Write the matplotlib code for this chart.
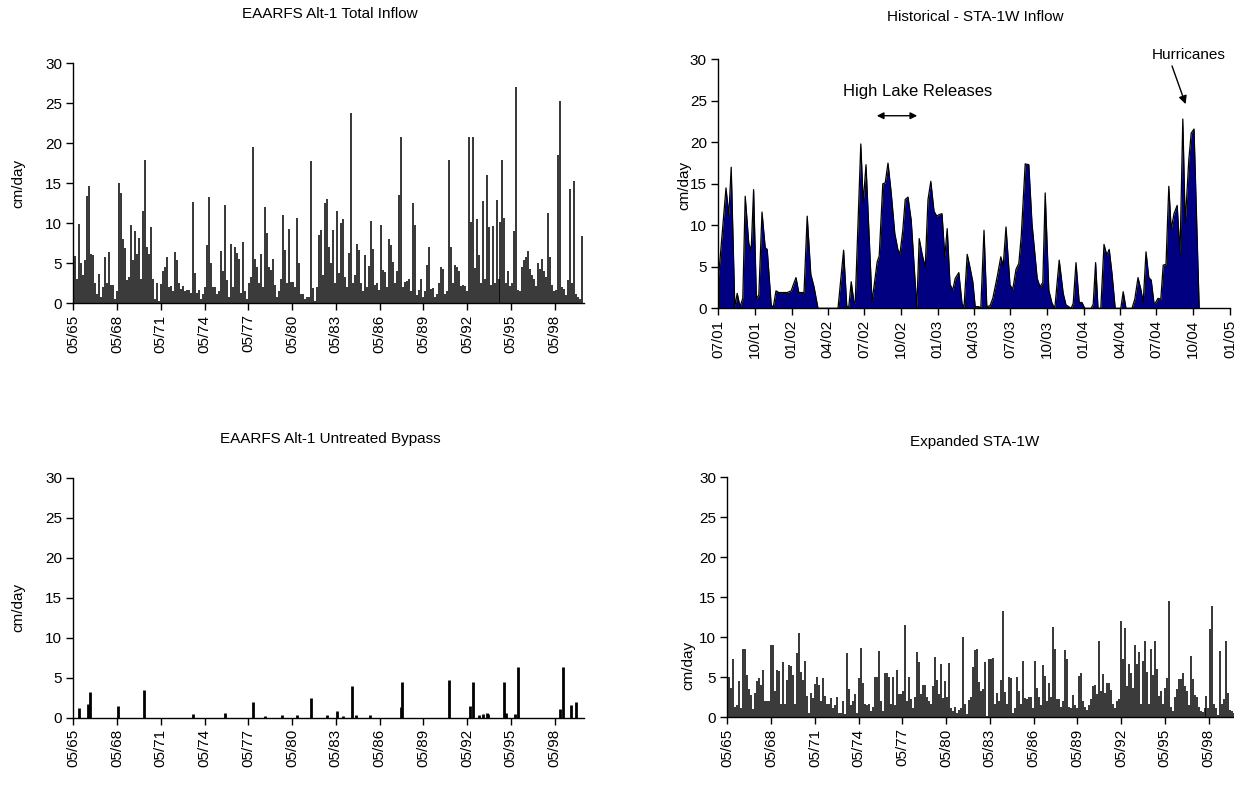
import pandas as pd
import matplotlib
matplotlib.use("Agg")
import matplotlib.pyplot as plt
import matplotlib.dates as mdates

plt.rcParams['font.family'] = ['Liberation Sans', 'DejaVu Sans']
plt.rcParams['font.size'] = 11

NAVY = '#000080'
W, H = 1234, 788

# EAARFS Alt-1 total inflow (cm/day), one reading every 50 days from May 1965
alt1_inflow = [
    11.2, 5.9, 3.0, 9.9, 5.0, 3.5, 5.4, 13.4, 14.7, 6.2,
    6.0, 2.5, 1.2, 3.7, 0.8, 2.0, 5.8, 2.5, 6.4, 2.3,
    2.3, 0.5, 1.5, 15.0, 13.8, 8.0, 6.9, 2.9, 3.3, 9.8,
    5.4, 9.0, 6.2, 8.2, 3.0, 11.5, 17.9, 7.0, 6.2, 9.5,
    3.0, 0.5, 2.5, 0.3, 2.4, 4.0, 4.6, 5.8, 2.0, 2.2,
    1.5, 6.4, 5.4, 2.5, 1.8, 2.2, 1.6, 1.7, 1.7, 1.3,
    12.7, 3.8, 1.3, 1.7, 0.5, 1.2, 2.0, 7.3, 13.3, 5.0,
    2.0, 2.0, 1.2, 1.5, 6.5, 4.0, 12.3, 2.9, 0.8, 7.4,
    2.0, 7.0, 6.3, 5.6, 1.3, 7.7, 1.5, 0.5, 2.5, 3.3,
    19.5, 5.6, 4.6, 2.5, 6.2, 2.0, 12.0, 8.8, 4.6, 4.2,
    5.6, 2.3, 0.8, 1.5, 3.0, 11.0, 6.7, 2.5, 9.3, 2.7,
    2.7, 2.0, 10.7, 5.0, 1.2, 1.2, 0.5, 0.8, 0.8, 17.8,
    1.9, 0.3, 2.0, 8.5, 9.2, 3.5, 12.6, 13.0, 7.0,
    5.0, 9.2, 2.5, 11.6, 3.8, 10.0, 10.6, 3.3, 2.0, 6.3,
    23.8, 2.5, 3.5, 7.4, 6.7, 2.5, 1.5, 6.0, 2.0, 4.7,
    10.3, 6.8, 2.3, 2.5, 1.7, 9.8, 4.2, 3.9, 2.0, 8.0,
    7.3, 5.2, 2.5, 4.0, 13.6, 20.8, 2.0, 2.7, 2.8, 3.1,
    1.5, 12.5, 9.8, 1.0, 1.7, 3.0, 0.8, 1.5, 4.8, 7.0,
    1.8, 1.9, 0.8, 1.2, 2.5, 4.6, 4.3, 1.2, 1.5, 17.9,
    7.0, 2.5, 4.8, 4.5, 4.0, 2.2, 2.3, 2.2, 1.5, 20.8,
    10.2, 20.8, 4.4, 10.6, 6.0, 2.5, 12.8, 3.0, 16.0, 9.5,
    2.3, 9.7, 2.5, 12.9, 3.0, 10.2, 17.9, 10.7, 2.5, 4.0,
    2.2, 2.5, 9.1, 27.0, 1.7, 1.5, 4.6, 5.4, 5.8, 6.6,
    4.3, 3.5, 3.0, 2.2, 5.0, 4.3, 5.6, 4.0, 3.3, 11.3,
    5.8, 2.3, 1.5, 1.7, 18.6, 25.3, 2.0, 1.8, 1.0, 2.9,
    14.3, 2.5, 15.3, 1.2, 0.8, 0.5, 8.4,
]

# Expanded STA-1W (cm/day), same 50-day time base
expanded_inflow = [
    7.8, 5.0, 3.7, 7.3, 1.3, 1.5, 4.5, 1.2, 8.5, 8.6,
    5.3, 3.5, 2.8, 1.0, 3.1, 4.5, 4.9, 4.1, 5.9, 2.1,
    2.1, 2.1, 9.1, 9.0, 3.3, 5.9, 5.8, 1.7, 6.9, 1.7,
    4.7, 6.6, 6.4, 5.3, 1.7, 8.0, 10.6, 5.7, 4.7, 7.0,
    2.7, 0.5, 3.0, 2.4, 4.2, 5.1, 4.1, 2.1, 4.9, 2.7,
    1.7, 1.7, 2.4, 1.2, 1.6, 2.5, 0.6, 0.5, 2.1, 0.4,
    8.0, 3.5, 1.5, 2.1, 2.9, 0.5, 4.9, 8.7, 4.3, 1.7,
    1.5, 1.7, 0.8, 1.3, 5.1, 5.0, 8.3, 2.1, 0.8, 5.6,
    5.6, 5.1, 1.7, 5.1, 1.5, 5.9, 2.9, 2.9, 3.3, 11.5,
    2.1, 5.1, 2.3, 1.2, 2.5, 8.2, 6.9, 2.9, 4.1, 4.1,
    2.5, 2.1, 1.7, 3.9, 7.5, 4.7, 2.9, 6.7, 2.4, 4.6,
    2.5, 6.8, 1.2, 0.8, 1.3, 0.6, 0.9, 1.2, 10.1, 1.7,
    0.4, 2.2, 2.5, 6.3, 8.4, 8.6, 4.4, 3.3, 3.6, 6.9,
    0.2, 7.3, 7.3, 7.4, 1.7, 3.1, 2.1, 4.7, 13.3, 3.2,
    1.7, 5.1, 4.9, 0.5, 1.2, 5.1, 3.3, 1.7, 7.1, 2.4,
    2.3, 2.5, 2.5, 1.2, 7.0, 3.7, 2.5, 1.5, 6.5, 5.2,
    2.1, 4.3, 2.5, 11.3, 8.5, 2.3, 2.3, 1.3, 2.1, 8.4,
    7.3, 1.3, 1.2, 2.8, 1.5, 1.2, 5.2, 5.5, 2.1, 1.3,
    0.9, 1.5, 2.3, 3.9, 4.1, 2.9, 9.6, 3.3, 5.4, 3.1,
    4.3, 4.3, 3.4, 1.7, 1.2, 2.1, 2.3, 12.0, 7.3, 11.2,
    3.9, 6.7, 5.5, 3.7, 9.1, 6.7, 8.2, 1.7, 7.1, 9.5,
    5.7, 1.7, 8.6, 5.3, 9.5, 6.1, 2.7, 3.3, 1.7, 3.7,
    4.9, 14.6, 1.3, 0.8, 2.5, 3.5, 4.8, 4.8, 5.6, 3.9,
    3.3, 1.6, 7.7, 4.8, 2.8, 2.5, 1.3, 0.8, 0.7, 1.2,
    2.7, 1.2, 11.0, 13.9, 1.7, 1.2, 0.3, 8.3, 1.7, 2.3,
    9.6, 3.0, 0.9, 0.8, 0.5, 0.8,
]

# EAARFS Alt-1 untreated bypass events
bypass_dates = [
    '1965-10-01', '1966-05-01', '1966-06-15', '1968-05-15', '1970-03-15',
    '1973-07-15', '1975-10-01', '1977-09-01', '1978-06-15', '1979-09-01',
    '1980-09-01', '1981-08-15', '1982-10-01', '1983-06-01', '1983-11-01',
    '1984-06-01', '1984-10-01', '1985-09-15', '1987-10-10', '1987-11-15',
    '1991-02-01', '1992-07-15', '1992-10-01', '1993-02-15', '1993-06-15',
    '1993-09-01', '1993-10-15', '1994-11-20', '1995-01-10', '1995-08-25',
    '1995-10-20', '1998-09-15', '1998-11-25', '1999-06-25', '1999-10-25',
]
bypass_vals = [
    1.2, 1.7, 3.2, 1.5, 3.4, 0.4, 0.6, 2.0, 0.2, 0.3,
    0.3, 2.5, 0.3, 0.8, 0.2, 3.9, 0.3, 0.3, 1.3, 4.5,
    4.7, 1.5, 4.4, 0.3, 0.4, 0.6, 0.4, 4.5, 0.6, 0.5,
    6.3, 1.1, 6.3, 1.6, 2.0,
]

# Historical STA-1W inflow: days after 2001-07-01, cm/day
hist_days = [
    0, 20, 27, 33, 42, 48, 55, 62, 68, 77, 83, 89, 96, 102, 110, 118, 123,
    133, 138, 145, 152, 173, 183, 188, 195, 202, 215, 223, 232, 240, 250,
    300, 314, 322, 327, 333, 340, 343, 357, 363, 370, 385, 393, 398, 403,
    412, 418, 425, 433, 442, 450, 455, 462, 468, 475, 483, 497, 503, 510,
    518, 525, 532, 540, 547, 553, 560, 567, 573, 580, 587, 593, 602, 610,
    615, 623, 628, 637, 643, 652, 657, 665, 672, 680, 687, 698, 707, 713,
    720, 730, 737, 745, 752, 758, 768, 777, 785, 798, 805, 812, 818, 827,
    835, 842, 853, 863, 870, 883, 888, 895, 903, 910, 917, 933, 938, 944,
    950, 957, 965, 972, 978, 985, 993, 1007, 1013, 1020, 1035, 1042, 1050,
    1057, 1063, 1070, 1077, 1083, 1090, 1093, 1100, 1107, 1113, 1120, 1127,
    1133, 1140, 1148, 1155, 1162, 1168, 1177, 1183, 1190, 1197, 1203,
]
hist_vals = [
    3.0, 14.5, 11.2, 17.0, 0.2, 1.8, 0.2, 1.2, 13.5, 7.8, 7.0, 14.3, 1.2, 1.6, 11.6, 7.3, 7.1,
    0.4, 0.1, 2.1, 1.9, 1.9, 2.1, 2.8, 3.7, 1.9, 1.9, 11.1, 4.1, 2.6, 0.0,
    0.0, 7.0, 0.2, 0.2, 3.2, 0.7, 0.6, 19.8, 12.7, 17.3, 0.8, 3.8, 5.6, 6.3,
    15.0, 15.1, 17.5, 13.9, 9.0, 7.0, 6.6, 9.4, 13.1, 13.4, 10.6, 0.1, 8.4, 6.6,
    4.9, 13.1, 15.3, 11.7, 11.1, 11.3, 11.4, 6.2, 9.6, 2.9, 2.2, 3.6, 4.3, 0.6,
    0.1, 6.5, 5.4, 3.2, 0.2, 0.2, 0.0, 9.4, 0.2, 0.3, 1.2, 3.8, 6.2, 5.1,
    9.8, 2.8, 2.3, 4.7, 5.4, 8.6, 17.4, 17.3, 10.2, 3.6, 2.6, 3.1, 13.9, 2.2,
    0.6, 0.0, 5.8, 1.8, 0.4, 0.0, 0.6, 5.5, 0.7, 0.7, 0.0, 0.0, 0.5, 5.5,
    0.0, 0.0, 7.7, 6.4, 7.1, 4.2, 0.0, 0.0, 2.0, 0.0, 0.0, 1.1, 3.7,
    2.3, 0.7, 6.8, 3.7, 3.4, 0.6, 0.6, 1.2, 1.1, 5.2, 5.3, 14.7,
    9.5, 11.4, 12.4, 6.4, 22.8, 10.2, 17.9, 21.1, 21.6, 9.8, 0.0,
]

long_start = pd.Timestamp('1965-05-01')
long_end = pd.Timestamp('2000-05-01')
long_ticks = [pd.Timestamp(f'{y}-05-01') for y in range(1965, 1999, 3)]
hist_start = pd.Timestamp('2001-07-01')
hist_end = pd.Timestamp('2005-01-01')
hist_ticks = pd.date_range(hist_start, hist_end, freq='3MS')


def box(l, t, r, b):
    return [l / W, 1 - b / H, (r - l) / W, (b - t) / H]


def style_axis(ax, ticks, start, end):
    ax.set_ylim(0, 30)
    ax.set_yticks(range(0, 31, 5))
    ax.set_xlim(start, end)
    ax.set_xticks(ticks)
    ax.xaxis.set_major_formatter(mdates.DateFormatter('%m/%y'))
    for lab in ax.get_xticklabels():
        lab.set_rotation(90)
    ax.spines['top'].set_visible(False)
    ax.spines['right'].set_visible(False)
    for s in ('left', 'bottom'):
        ax.spines[s].set_linewidth(1.0)
        ax.spines[s].set_zorder(5)
    ax.tick_params(direction='out', length=5, width=1.0, labelsize=11, pad=3)


def spikes(ax, values):
    # dense record drawn as thin black spikes
    t = pd.date_range(long_start, periods=len(values), freq='50D')
    ax.vlines(t, 0, values, colors='black', lw=1.1)


fig = plt.figure(figsize=(W / 100, H / 100), dpi=100)

ax1 = fig.add_axes(box(73.3, 63.3, 583.7, 303.3))
spikes(ax1, alt1_inflow)
style_axis(ax1, long_ticks, long_start, long_end)

ax2 = fig.add_axes(box(718, 59.3, 1230, 308.3))
hd = hist_start + pd.to_timedelta(hist_days, unit='D')
ax2.fill_between(hd, hist_vals, color=NAVY, lw=0)
ax2.plot(hd, hist_vals, color='black', lw=0.9)
style_axis(ax2, hist_ticks, hist_start, hist_end)

ax3 = fig.add_axes(box(73.3, 477.5, 583.7, 717.5))
ax3.vlines(pd.to_datetime(bypass_dates), 0, bypass_vals, colors='black', lw=2.0)
style_axis(ax3, long_ticks, long_start, long_end)

ax4 = fig.add_axes(box(727.4, 477.3, 1237.8, 717.3))
spikes(ax4, expanded_inflow)
style_axis(ax4, long_ticks, long_start, long_end)

# annotations on the historical panel
day = lambda d: hist_start + pd.Timedelta(days=d)
ax2.text(day(500), 26.1, 'High Lake Releases', ha='center', va='center', fontsize=12)
ax2.annotate('', xy=(day(498), 23.2), xytext=(day(397), 23.2),
             arrowprops=dict(arrowstyle='<|-|>', color='black', lw=1.0,
                             mutation_scale=10, shrinkA=0, shrinkB=0))
ax2.text(day(1176), 30.5, 'Hurricanes', ha='center', va='center', fontsize=11, clip_on=False)
ax2.annotate('', xy=(day(1169), 24.6), xytext=(day(1135), 29.2), annotation_clip=False,
             arrowprops=dict(arrowstyle='-|>', color='black', lw=1.0,
                             mutation_scale=12, shrinkA=0, shrinkB=0))

titles = [('EAARFS Alt-1 Total Inflow', 330, 14),
          ('Historical - STA-1W Inflow', 975, 17),
          ('EAARFS Alt-1 Untreated Bypass', 330, 439),
          ('Expanded STA-1W', 975, 442)]
for txt, x, y in titles:
    fig.text(x / W, 1 - y / H, txt, ha='center', va='center', fontsize=11)

for x, y in [(18, 183), (684, 185), (18, 607), (688, 665)]:
    fig.text(x / W, 1 - y / H, 'cm/day', rotation=90, ha='center', va='center', fontsize=11)

fig.savefig('out.png', dpi=100)
